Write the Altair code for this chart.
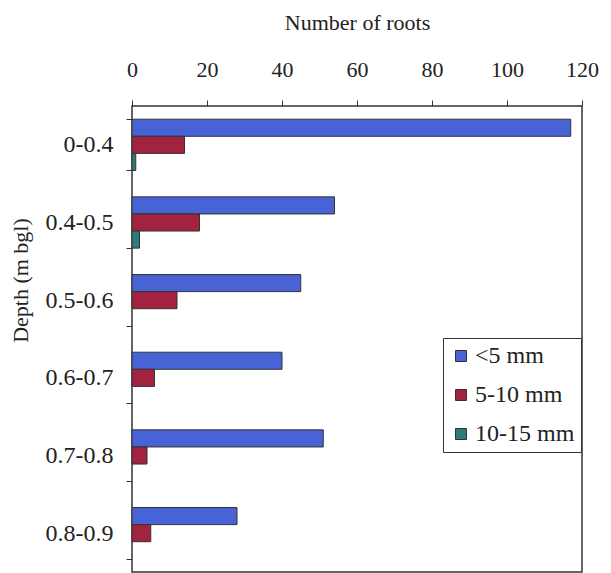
import altair as alt
import pandas as pd

depths = ["0-0.4", "0.4-0.5", "0.5-0.6", "0.6-0.7", "0.7-0.8", "0.8-0.9"]
series = ["<5 mm", "5-10 mm", "10-15 mm"]
lt5 = [117, 54, 45, 40, 51, 28]
mid = [14, 18, 12, 6, 4, 5]
big = [1, 2, 0, 0, 0, 0]
x_ticks = [0, 20, 40, 60, 80, 100, 120]
colors = ["#4763d6", "#a3223f", "#2b7c79"]

rows = []
for i, d in enumerate(depths):
    for s, vals in zip(series, [lt5, mid, big]):
        rows.append({"depth": d, "size": s, "n": vals[i]})
df = pd.DataFrame(rows)
df = df[df["n"] > 0]

FONT = "Liberation Serif"

chart = alt.Chart(df).mark_bar(stroke="#333333", strokeWidth=1).encode(
    x=alt.X(
        "n:Q",
        scale=alt.Scale(domain=[0, 120], nice=False),
        axis=alt.Axis(
            orient="top", values=x_ticks, title="Number of roots", grid=False,
            domain=False, tickSize=6, tickColor="#333333", labelPadding=19,
            labelFlush=False,
            labelFont=FONT, labelFontSize=22, labelColor="#222222",
            titleFont=FONT, titleFontSize=22, titleFontWeight="normal",
            titleColor="#222222", titleY=-77, titleBaseline="alphabetic",
        ),
    ),
    y=alt.Y(
        "depth:N",
        sort=depths,
        scale=alt.Scale(domain=depths, paddingInner=0.34, paddingOuter=0.17),
        axis=alt.Axis(
            title="Depth (m bgl)", tickBand="extent", domain=False, tickSize=6,
            tickColor="#333333", labelPadding=13, labelFont=FONT,
            labelFontSize=24, labelColor="#222222", titleFont=FONT,
            titleFontSize=22, titleFontWeight="normal", titleColor="#222222",
            titleX=-105, titleY=174, titleBaseline="alphabetic",
        ),
    ),
    yOffset=alt.YOffset(
        "size:N", sort=series,
        scale=alt.Scale(domain=series, paddingInner=0, paddingOuter=0),
    ),
    color=alt.Color(
        "size:N",
        scale=alt.Scale(domain=series, range=colors),
        legend=alt.Legend(
            title=None, orient="none", legendX=311, legendY=232,
            strokeColor="#333333", fillColor="white", padding=6,
            labelFont=FONT, labelFontSize=24, labelColor="#222222",
            symbolType="square", symbolSize=121, symbolStrokeColor="#333333",
            symbolStrokeWidth=1, symbolOpacity=1, rowPadding=15, labelOffset=2,
        ),
    ),
).properties(
    width=450,
    height=466,
    autosize=alt.AutoSizeParams(type="none"),
    padding={"left": 124, "top": 98, "right": 21, "bottom": 1},
).configure_view(stroke="#333333", strokeWidth=1.5)

chart.save("out.html", embed_options={"renderer": "svg", "actions": False})
